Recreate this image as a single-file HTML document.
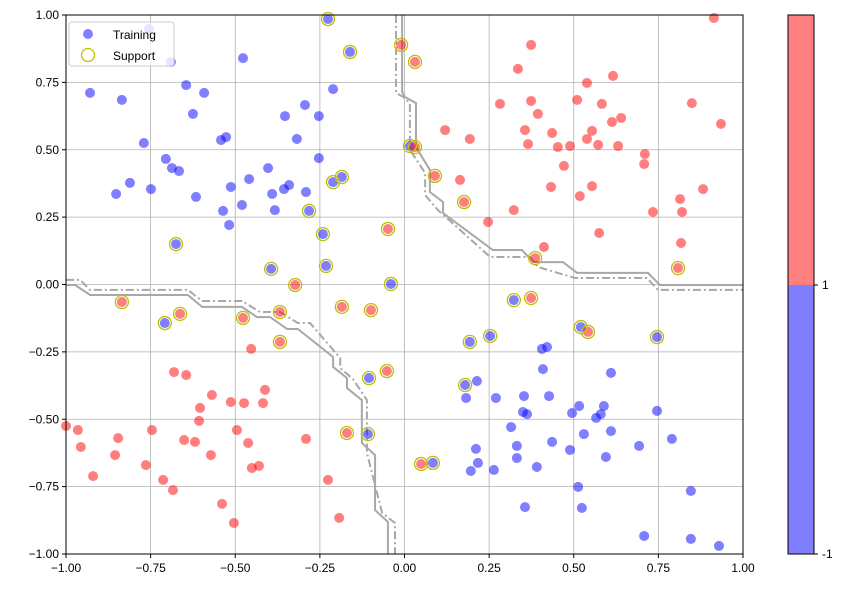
<!DOCTYPE html>
<html><head><meta charset="utf-8"><style>
body{margin:0;background:#fff;font-family:"Liberation Sans",sans-serif}
svg text{font-family:"Liberation Sans",sans-serif;font-size:12px;fill:#000}
</style></head><body>
<svg id="chart" width="847" height="588" xmlns="http://www.w3.org/2000/svg">
<g id="grid"></g>
<g id="bounds"></g>
<g id="pts"></g>
<rect x="66" y="15" width="677" height="539" fill="none" stroke="#000" stroke-width="1"/>
<g id="ticks"></g>
<g>
<rect x="69" y="22" width="105" height="44" rx="3" fill="#fff" fill-opacity="0.8" stroke="#ccc"/>
<circle cx="88" cy="34" r="5" fill="#0000ff" fill-opacity="0.5"/>
<text x="113" y="39" font-size="13">Training</text>
<circle cx="88" cy="55" r="6.5" fill="none" stroke="#bfbf00" stroke-width="1.3"/>
<text x="113" y="60" font-size="13">Support</text>
</g>
<g>
<rect x="788" y="15" width="26" height="270" fill="#ff8080"/>
<rect x="788" y="285" width="26" height="269" fill="#8080ff"/>
<rect x="788" y="15" width="26" height="539" fill="none" stroke="#000"/>
<line x1="814" y1="285" x2="818" y2="285" stroke="#000"/><line x1="814" y1="554" x2="818" y2="554" stroke="#000"/>
<text x="822" y="289">1</text>
<text x="822" y="558">-1</text>
</g>
</svg>
<script>
const xTicks=[-1,-0.75,-0.5,-0.25,0,0.25,0.5,0.75,1];
const yTicks=[-1,-0.75,-0.5,-0.25,0,0.25,0.5,0.75,1];
const tickLabels=["−1.00","−0.75","−0.50","−0.25","0.00","0.25","0.50","0.75","1.00"];
const blueX=[-0.755,-0.690,-0.477,-0.929,-0.835,-0.645,-0.592,-0.625,-0.770,-0.542,-0.527,-0.353,-0.294,-0.253,-0.211,-0.318,-0.253,-0.403,-0.705,-0.687,-0.666,-0.811,-0.852,-0.749,-0.616,-0.513,-0.459,-0.391,-0.356,-0.341,-0.291,-0.536,-0.480,-0.383,-0.518,
0.406,0.421,0.409,0.610,0.214,0.182,0.270,0.353,0.427,0.350,0.362,0.495,0.516,0.589,0.580,0.566,0.746,0.315,0.530,0.610,0.790,0.693,0.332,0.436,0.489,0.211,0.595,0.217,0.196,0.264,0.332,0.391,0.513,0.846,0.356,0.524,0.708,0.846,0.929];
const blueY=[0.948,0.826,0.840,0.711,0.685,0.740,0.711,0.633,0.525,0.536,0.547,0.625,0.666,0.625,0.725,0.540,0.469,0.432,0.466,0.432,0.421,0.377,0.336,0.354,0.325,0.362,0.391,0.336,0.354,0.369,0.343,0.273,0.295,0.276,0.221,
-0.239,-0.232,-0.314,-0.328,-0.358,-0.421,-0.421,-0.414,-0.414,-0.473,-0.481,-0.477,-0.451,-0.451,-0.481,-0.495,-0.469,-0.529,-0.555,-0.544,-0.573,-0.599,-0.599,-0.584,-0.614,-0.610,-0.640,-0.662,-0.692,-0.688,-0.644,-0.677,-0.751,-0.766,-0.826,-0.829,-0.933,-0.944,-0.970];
const redX=[0.914,0.374,0.335,0.539,0.616,0.282,0.374,0.510,0.583,0.394,0.613,0.640,0.849,0.935,0.120,0.193,0.356,0.436,0.554,0.539,0.365,0.453,0.489,0.572,0.631,0.710,0.708,0.471,0.164,0.433,0.554,0.518,0.882,0.814,0.734,0.820,0.323,0.247,0.575,0.817,0.412,
-0.453,-0.681,-0.645,-0.412,-0.569,-0.513,-0.474,-0.418,-0.604,-0.607,-1.0,-0.965,-0.956,-0.846,-0.855,-0.920,-0.746,-0.651,-0.619,-0.572,-0.495,-0.462,-0.764,-0.713,-0.684,-0.451,-0.430,-0.291,-0.226,-0.539,-0.504,-0.193];
const redY=[0.989,0.889,0.800,0.748,0.774,0.670,0.681,0.685,0.670,0.633,0.603,0.618,0.673,0.596,0.573,0.540,0.573,0.562,0.570,0.540,0.521,0.510,0.514,0.518,0.514,0.484,0.447,0.440,0.388,0.362,0.365,0.328,0.354,0.317,0.269,0.269,0.276,0.232,0.191,0.154,0.139,
-0.239,-0.325,-0.336,-0.391,-0.410,-0.436,-0.440,-0.440,-0.458,-0.506,-0.525,-0.540,-0.603,-0.570,-0.633,-0.711,-0.540,-0.577,-0.584,-0.633,-0.540,-0.588,-0.670,-0.725,-0.763,-0.681,-0.673,-0.573,-0.725,-0.814,-0.885,-0.866];
const supBlueX=[-0.226,-0.161,-0.211,-0.185,-0.282,-0.241,-0.675,-0.394,-0.232,-0.040,0.016,-0.708,-0.105,-0.108,0.323,0.521,0.746,0.253,0.193,0.179,0.084];
const supBlueY=[0.985,0.863,0.380,0.399,0.273,0.187,0.150,0.058,0.069,0.002,0.514,-0.143,-0.347,-0.555,-0.058,-0.158,-0.195,-0.191,-0.213,-0.373,-0.662];
const supRedX=[-0.010,0.031,0.031,-0.049,-0.323,0.090,0.176,0.386,0.808,-0.835,-0.663,-0.477,-0.368,-0.368,-0.185,-0.099,-0.052,-0.170,0.374,0.542,0.049];
const supRedY=[0.889,0.826,0.510,0.206,-0.002,0.403,0.306,0.098,0.061,-0.065,-0.109,-0.124,-0.102,-0.213,-0.083,-0.095,-0.321,-0.551,-0.050,-0.176,-0.666];
const solidLowX=[-1.0,-0.973,-0.929,-0.640,-0.598,-0.480,-0.436,-0.397,-0.347,-0.315,-0.211,-0.211,-0.170,-0.170,-0.126,-0.126,-0.087,-0.087,-0.049,-0.049];
const solidLowY=[-0.002,-0.002,-0.039,-0.039,-0.083,-0.083,-0.121,-0.121,-0.165,-0.165,-0.269,-0.306,-0.347,-0.384,-0.429,-0.588,-0.633,-0.837,-0.881,-1.0];
const solidHighX=[-0.007,-0.007,0.001,0.034,0.034,0.075,0.075,0.114,0.114,0.261,0.347,0.380,0.468,0.510,0.719,0.755,1.0];
const solidHighY=[1.0,0.714,0.696,0.673,0.510,0.425,0.343,0.306,0.265,0.128,0.128,0.083,0.083,0.043,0.043,-0.002,-0.002];
const dashLowX=[-1.0,-0.958,-0.929,-0.640,-0.598,-0.480,-0.427,-0.368,-0.315,-0.279,-0.190,-0.190,-0.152,-0.111,-0.111,-0.066,-0.028,-0.028];
const dashLowY=[0.017,0.017,-0.020,-0.020,-0.061,-0.061,-0.102,-0.102,-0.143,-0.143,-0.273,-0.310,-0.351,-0.429,-0.625,-0.848,-0.885,-1.0];
const dashHighX=[-0.025,-0.025,-0.004,0.016,0.016,0.061,0.061,0.099,0.253,0.371,0.394,0.504,0.716,0.749,1.0];
const dashHighY=[1.0,0.711,0.696,0.673,0.499,0.414,0.332,0.276,0.102,0.102,0.065,0.024,0.024,-0.020,-0.020];

const NS="http://www.w3.org/2000/svg";
const X0=66,X1=743,Y0=554,Y1=15;
function sx(v){return X0+(v+1)/2*(X1-X0);}
function sy(v){return Y0-(v+1)/2*(Y0-Y1);}
function mk(tag,attrs,parent){const e=document.createElementNS(NS,tag);for(const k in attrs)e.setAttribute(k,attrs[k]);parent.appendChild(e);return e;}
const grid=document.getElementById('grid'),ticks=document.getElementById('ticks');
xTicks.forEach((t,i)=>{
  const l=mk('line',{x1:sx(t),x2:sx(t),y1:Y1,y2:Y0,stroke:'#b0b0b0','stroke-width':0.8},grid);
  
  
  mk('line',{x1:sx(t),x2:sx(t),y1:Y0,y2:Y0+4,stroke:'#000'},ticks);
  const tx=mk('text',{x:sx(t),y:Y0+18,'text-anchor':'middle'},ticks);tx.textContent=tickLabels[i];
  
  
});
yTicks.forEach((t,i)=>{
  const l=mk('line',{x1:X0,x2:X1,y1:sy(t),y2:sy(t),stroke:'#b0b0b0','stroke-width':0.8},grid);
  
  
  mk('line',{x1:X0-4,x2:X0,y1:sy(t),y2:sy(t),stroke:'#000'},ticks);
  const tx=mk('text',{x:X0-7,y:sy(t)+4,'text-anchor':'end'},ticks);tx.textContent=tickLabels[i];
  
  
});
const bounds=document.getElementById('bounds');
function poly(xs,ys,dash,name){
  const p=mk('polyline',{points:xs.map((v,i)=>sx(v)+','+sy(ys[i])).join(' '),fill:'none',stroke:'#a8a8a8','stroke-width':2,'stroke-dasharray':dash},bounds);
  
  
}
poly(solidLowX,solidLowY,'none','decision-boundary-lower');
poly(solidHighX,solidHighY,'none','decision-boundary-upper');
poly(dashLowX,dashLowY,'8,3,2,3','margin-boundary-lower');
poly(dashHighX,dashHighY,'8,3,2,3','margin-boundary-upper');
const pts=document.getElementById('pts');
function dots(xs,ys,col,name){xs.forEach((v,i)=>{
  const c=mk('circle',{cx:sx(v),cy:sy(ys[i]),r:5,fill:col,'fill-opacity':0.5},pts);
  
  
});}
function rings(xs,ys){xs.forEach((v,i)=>{
  const c=mk('circle',{cx:sx(v),cy:sy(ys[i]),r:6.5,fill:'none',stroke:'#bfbf00','stroke-width':1.3},pts);
  
  
});}
dots(blueX,blueY,'#0000ff','training-point-blue');
dots(redX,redY,'#ff0000','training-point-red');
dots(supBlueX,supBlueY,'#0000ff','support-point-blue');
dots(supRedX,supRedY,'#ff0000','support-point-red');
rings(supBlueX,supBlueY);
rings(supRedX,supRedY);
</script>
</body></html>
